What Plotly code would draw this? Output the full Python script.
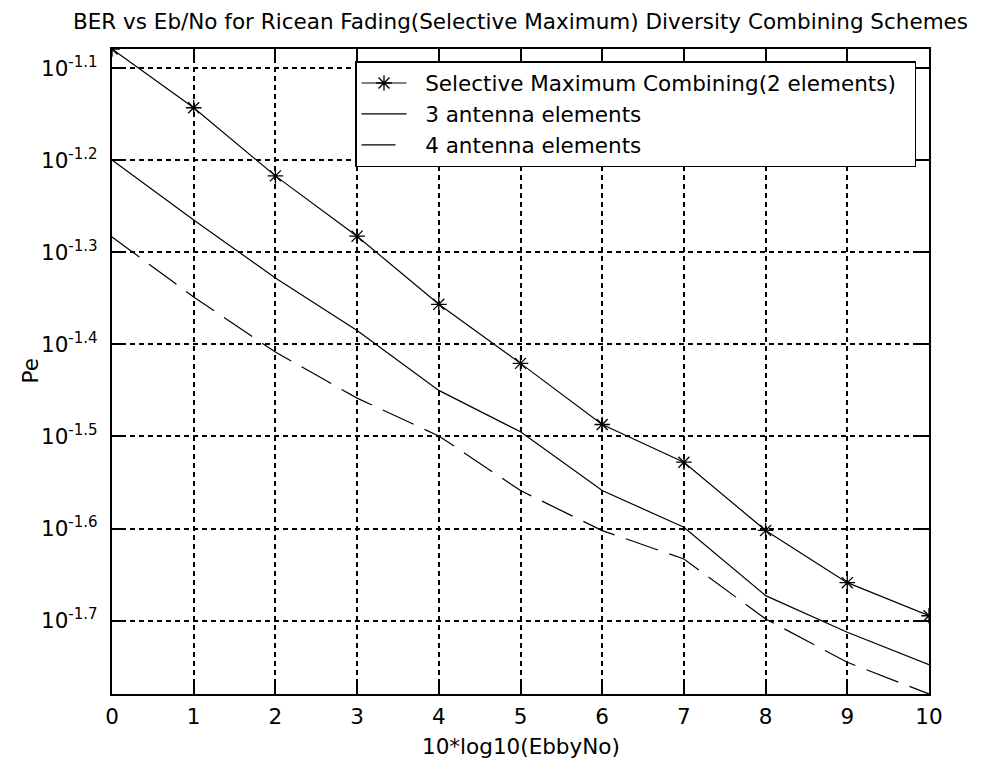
import numpy as np
import plotly.graph_objects as go

# ---- data ----
ebno_db = [0, 1, 2, 3, 4, 5, 6, 7, 8, 9, 10]
pe_2el = [0.08330, 0.07192, 0.06066, 0.05217, 0.04400, 0.03796, 0.03258, 0.02965, 0.02500, 0.02194, 0.02020]
pe_3el = [0.06310, 0.05433, 0.04699, 0.04121, 0.03548, 0.03199, 0.02762, 0.02520, 0.02124, 0.01938, 0.01787]
pe_4el = [0.05207, 0.04481, 0.03905, 0.03480, 0.03166, 0.02762, 0.02499, 0.02328, 0.02004, 0.01798, 0.01661]

series_names = ["Selective Maximum Combining(2 elements)", "3 antenna elements", "4 antenna elements"]
y_exponents = [-1.7, -1.6, -1.5, -1.4, -1.3, -1.2, -1.1]
x_ticks = [0, 1, 2, 3, 4, 5, 6, 7, 8, 9, 10]

FONT = "DejaVu Sans, Liberation Sans, Arial, sans-serif"
FS = 21.5
NB = "\u00a0"

fig = go.Figure()
fig.add_trace(go.Scatter(x=ebno_db, y=pe_2el, name=NB * 2 + series_names[0] + NB * 2, mode="lines+markers",
                         line=dict(color="black", width=1.2),
                         marker=dict(symbol="asterisk-open", size=13, color="black", line=dict(color="black", width=1.3)),
                         legendgroup="a"))
fig.add_trace(go.Scatter(x=ebno_db, y=pe_3el, name=NB * 2 + series_names[1], mode="lines",
                         line=dict(color="black", width=1.2), legendgroup="b"))
fig.add_trace(go.Scatter(x=ebno_db, y=pe_4el, name=NB * 2 + series_names[2], mode="lines",
                         line=dict(color="black", width=1.2, dash="34px,12px"), legendgroup="c"))

all_vals = pe_2el + pe_3el + pe_4el
yr = [np.log10(min(all_vals)), np.log10(max(all_vals))]

axis_common = dict(
    showline=True, linecolor="black", linewidth=2, mirror="ticks",
    ticks="inside", ticklen=11, tickwidth=2, tickcolor="black",
    showgrid=True, gridcolor="black", gridwidth=1.5, griddash="5px,4px",
    zeroline=False, tickfont=dict(family=FONT, size=FS, color="black"),
)

fig.update_xaxes(range=[0, 10], tickvals=x_ticks, ticktext=[str(v) for v in x_ticks],
                 ticklabelstandoff=2, **axis_common)
fig.update_yaxes(type="log", range=yr, tickvals=[10 ** e for e in y_exponents],
                 ticktext=["10<sup>%s</sup>" % e for e in y_exponents],
                 ticklabelstandoff=8, **axis_common)

fig.update_layout(
    width=981, height=772, autosize=False,
    margin=dict(l=112, r=52, t=49, b=78),
    paper_bgcolor="white", plot_bgcolor="white",
    font=dict(family=FONT, size=FS, color="black"),
    title=dict(text="BER vs Eb/No for Ricean Fading(Selective Maximum) Diversity Combining Schemes",
               x=0.5, xref="paper", xanchor="center", y=1 - 21 / 772, yanchor="middle",
               font=dict(family=FONT, size=FS, color="black")),
    legend=dict(x=(355 - 112) / 817, xanchor="left", y=(694 - 61) / 645, yanchor="top",
                bgcolor="white", bordercolor="black", borderwidth=1.5, itemwidth=45,
                font=dict(family=FONT, size=FS, color="black"), tracegroupgap=0),
    showlegend=True,
    annotations=[
        dict(text="10*log10(EbbyNo)", xref="paper", yref="paper", x=0.5, y=(694 - 746) / 645,
             xanchor="center", yanchor="middle", showarrow=False,
             font=dict(family=FONT, size=FS, color="black")),
        dict(text="Pe", xref="paper", yref="paper", x=(30 - 112) / 817, y=0.5, textangle=-90,
             xanchor="center", yanchor="middle", showarrow=False,
             font=dict(family=FONT, size=FS, color="black")),
    ],
)

fig.write_html("out.html")
